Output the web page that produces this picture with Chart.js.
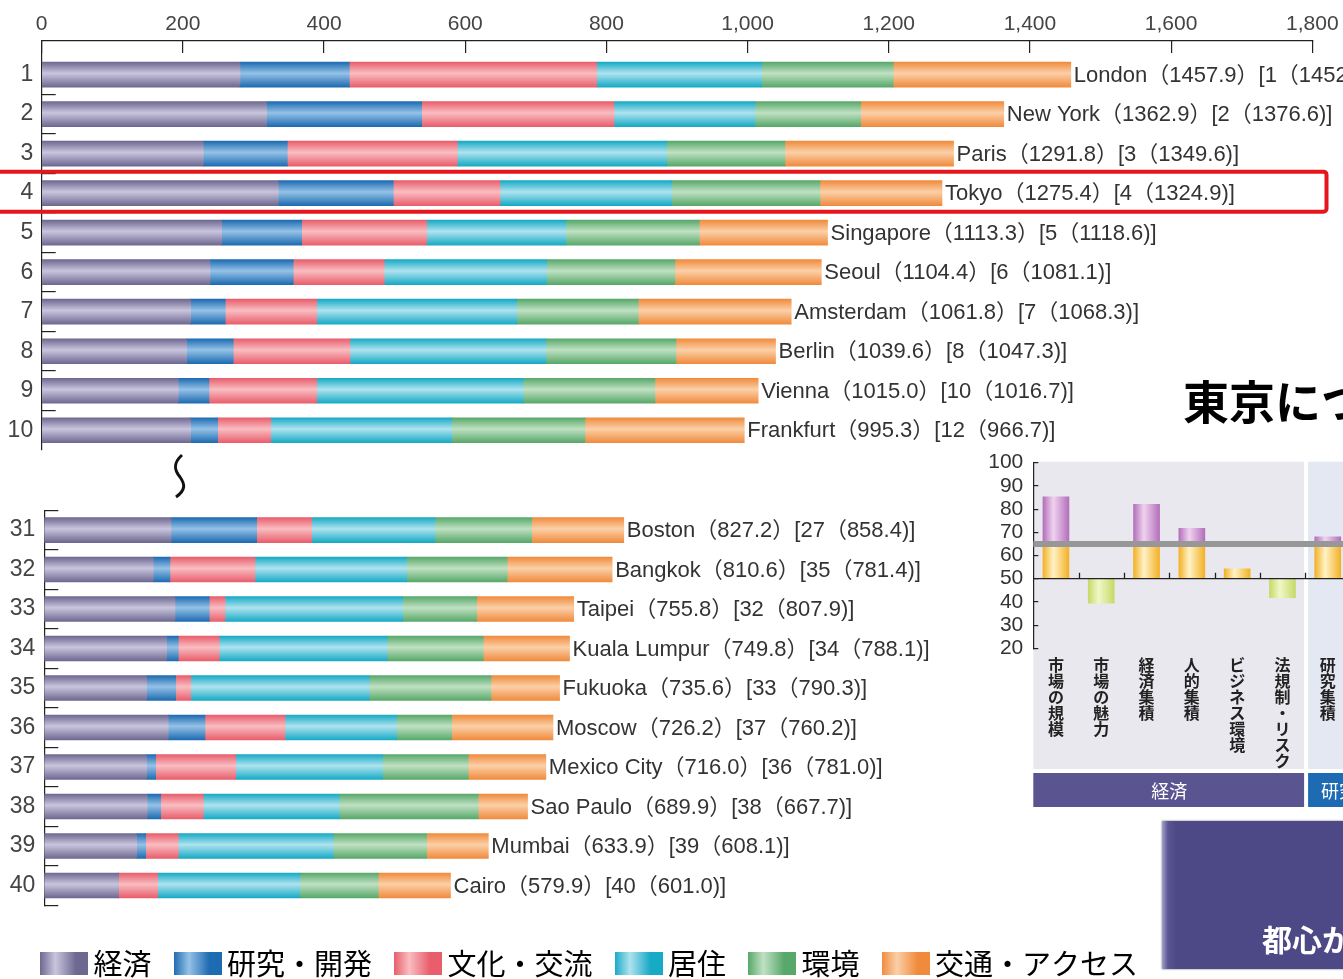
<!DOCTYPE html>
<html lang="ja">
<head>
<meta charset="utf-8">
<title>都市総合力ランキング</title>
<script src="https://cdn.jsdelivr.net/npm/chart.js@4.4.1/dist/chart.umd.min.js"></script>
<style>
html, body { margin: 0; padding: 0; background: #fff; }
#page { position: relative; width: 1343px; height: 979px; overflow: hidden; background: #fff; }
canvas { position: absolute; display: block; }
#topChart { left: 0; top: 0; }
#bottomChart { left: 0; top: 500px; }
#factorChart { left: 970px; top: 440px; }
#title { position: absolute; left: 1183px; top: 376px; font: bold 46px "Noto Sans CJK JP"; line-height: 1; color: #000; white-space: nowrap; }
#box { position: absolute; left: 1162px; top: 821px; width: 200px; height: 148px;
  background: linear-gradient(to right, #a3a0cc 0, #5a5692 6px, #4d4986 14px, #4d4986 100%); box-shadow: 0 0 2px #777; }
#box span { position: absolute; left: 100px; top: 102px; color: #fff; font: bold 30px "Noto Sans CJK JP"; line-height: 1; white-space: nowrap; }
#squiggle { position: absolute; left: 160px; top: 450px; }
</style>
</head>
<body>
<div id="page">
  <canvas id="topChart" width="1343" height="455"></canvas>
  <canvas id="bottomChart" width="1343" height="488"></canvas>
  <canvas id="factorChart" width="400" height="380"></canvas>
  <div id="title">東京について</div>
  <div id="box"><span>都心から</span></div>
  <svg id="squiggle" width="40" height="55"><path d="M 22 5 C 12 14, 15 21, 20 27 C 25 34, 26 40, 16 47" fill="none" stroke="#111" stroke-width="3"/></svg>
</div>
<script>
var categoryNames = ['経済', '研究・開発', '文化・交流', '居住', '環境', '交通・アクセス'];
var segmentColors = [
    ['#6d6890', '#cac5dd'],
    ['#1d6bb1', '#95c2e7'],
    ['#e85e6c', '#f9bdc1'],
    ['#17aac5', '#afe3ef'],
    ['#58a86a', '#c0e1c3'],
    ['#f08b3d', '#fbd0a8']
];

var topRanks = [1, 2, 3, 4, 5, 6, 7, 8, 9, 10];
var topCities = ['London', 'New York', 'Paris', 'Tokyo', 'Singapore', 'Seoul', 'Amsterdam', 'Berlin', 'Vienna', 'Frankfurt'];
var topScores = [1457.9, 1362.9, 1291.8, 1275.4, 1113.3, 1104.4, 1061.8, 1039.6, 1015.0, 995.3];
var topPrevRanks = [1, 2, 3, 4, 5, 6, 7, 8, 10, 12];
var topPrevScores = [1452.5, 1376.6, 1349.6, 1324.9, 1118.6, 1081.1, 1068.3, 1047.3, 1016.7, 966.7];
var topEconomy = [280.9, 318.7, 229.0, 335.2, 255.0, 238.4, 211.0, 205.4, 193.5, 211.0];
var topResearch = [154.9, 219.6, 119.0, 162.9, 113.3, 118.0, 49.1, 66.0, 43.5, 38.3];
var topCulture = [350.4, 272.4, 240.8, 151.1, 177.1, 128.9, 129.5, 165.3, 152.6, 75.1];
var topLiving = [233.8, 199.8, 296.6, 243.3, 197.3, 230.1, 283.3, 277.7, 292.7, 256.4];
var topEnvironment = [186.4, 149.7, 167.6, 210.1, 188.9, 181.7, 172.3, 184.2, 186.5, 188.9];
var topAccess = [251.5, 202.7, 238.8, 172.8, 181.7, 207.3, 216.6, 141.0, 146.2, 225.6];

var bottomRanks = [31, 32, 33, 34, 35, 36, 37, 38, 39, 40];
var bottomCities = ['Boston', 'Bangkok', 'Taipei', 'Kuala Lumpur', 'Fukuoka', 'Moscow', 'Mexico City', 'Sao Paulo', 'Mumbai', 'Cairo'];
var bottomScores = [827.2, 810.6, 755.8, 749.8, 735.6, 726.2, 716.0, 689.9, 633.9, 579.9];
var bottomPrevRanks = [27, 35, 32, 34, 33, 37, 36, 38, 39, 40];
var bottomPrevScores = [858.4, 781.4, 807.9, 788.1, 790.3, 760.2, 781.0, 667.7, 608.1, 601.0];
var bottomEconomy = [180.9, 155.6, 186.6, 174.7, 146.2, 177.0, 146.2, 147.0, 131.9, 105.6];
var bottomResearch = [122.3, 23.8, 48.9, 16.6, 41.4, 52.4, 12.8, 19.2, 12.9, 0];
var bottomCulture = [78.5, 121.4, 22.5, 58.5, 21.4, 114.2, 114.2, 60.8, 46.5, 56.3];
var bottomLiving = [176.0, 216.5, 253.6, 239.8, 255.0, 159.4, 209.9, 194.1, 221.3, 203.1];
var bottomEnvironment = [138.1, 143.6, 105.7, 137.1, 173.7, 78.6, 122.2, 198.5, 133.3, 111.8];
var bottomAccess = [131.4, 149.7, 138.5, 123.1, 97.9, 144.6, 110.7, 70.3, 88.0, 103.1];

var scoreTicks = [0, 200, 400, 600, 800, 1000, 1200, 1400, 1600, 1800];
var highlightRank = 4;

var factorNames = ['市場の規模', '市場の魅力', '経済集積', '人的集積', 'ビジネス環境', '法規制・リスク', '研究集積'];
var factorScores = [85.3, 39.4, 82.1, 71.7, 54.3, 41.8, 68.1];
var factorTicks = [100, 90, 80, 70, 60, 50, 40, 30, 20];
var factorBase = 50;
var factorAverage = 65;
var factorGroups = ['経済', '研究・開発'];

var latin = '"Liberation Sans", Arial, "Noto Sans CJK JP", sans-serif';
var cjk = '"Noto Sans CJK JP", sans-serif';

function noPad(s) {
    s.paddingTop = 0;
    s.paddingBottom = 0;
    s.paddingLeft = 0;
    s.paddingRight = 0;
}

function rankTicks(ranks, withEnds) {
    var t = [];
    if (withEnds) t.push(ranks[0] - 0.5);
    ranks.forEach(function(r, i) {
        t.push(r);
        if (i < ranks.length - 1 || withEnds) t.push(r + 0.5);
    });
    return t.map(function(v) { return { value: v }; });
}

function halfTickColor(c) {
    return c.tick && c.tick.value % 1 !== 0 ? '#222' : 'rgba(0,0,0,0)';
}

function barGradient(pair) {
    return function(c) {
        var chart = c.chart, ys = chart.scales.y;
        if (!chart.chartArea || !ys || !c.parsed) return pair[0];
        var y = ys.getPixelForValue(c.parsed.y);
        var g = chart.ctx.createLinearGradient(0, y - 12.5, 0, y + 12.5);
        g.addColorStop(0, pair[0]);
        g.addColorStop(0.45, pair[1]);
        g.addColorStop(1, pair[0]);
        return g;
    };
}

function stackedDatasets(ranks, segments) {
    return categoryNames.map(function(name, k) {
        return {
            label: name,
            data: ranks.map(function(r, i) { return { x: segments[k][i], y: r }; }),
            backgroundColor: barGradient(segmentColors[k]),
            borderWidth: 0,
            barThickness: 25
        };
    });
}

function makeSwatch(pair) {
    var cv = document.createElement('canvas');
    cv.width = 48;
    cv.height = 23;
    var g = cv.getContext('2d');
    var gr = g.createLinearGradient(0, 0, 48, 0);
    gr.addColorStop(0, pair[0]);
    gr.addColorStop(0.32, pair[1]);
    gr.addColorStop(0.75, pair[0]);
    gr.addColorStop(1, pair[0]);
    g.fillStyle = gr;
    g.fillRect(0, 0, 48, 23);
    return cv;
}

var endLabels = {
    id: 'endLabels',
    afterLayout: function(chart, args, opts) {
        // legend starts a bit right of the axis labels
        if (opts.legendShift && chart.legend) {
            chart.legend.left += opts.legendShift;
            chart.legend.right += opts.legendShift;
        }
    },
    afterDatasetsDraw: function(chart, args, opts) {
        if (!opts.ranks) return;
        var c = chart.ctx, xs = chart.scales.x, ys = chart.scales.y;
        c.save();
        c.font = '22px ' + latin;
        c.fillStyle = '#333';
        c.textBaseline = 'middle';
        opts.ranks.forEach(function(r, i) {
            var text = opts.cities[i] + '（' + opts.scores[i].toFixed(1) + '）[' + opts.prevRanks[i] + '（' + opts.prevScores[i].toFixed(1) + ')]';
            c.fillText(text, xs.getPixelForValue(opts.scores[i]) + 3, ys.getPixelForValue(r) + 1);
        });
        if (opts.highlight) {
            var y = ys.getPixelForValue(opts.highlight);
            c.strokeStyle = '#e6161d';
            c.lineWidth = 4;
            c.beginPath();
            c.roundRect(-4, y - 21.5, 1330.5, 40, 3);
            c.stroke();
        }
        c.restore();
    }
};

function rankChart(id, ranks, segments, info) {
    var isTop = info.top;
    return new Chart(document.getElementById(id), {
        type: 'bar',
        data: { datasets: stackedDatasets(ranks, segments) },
        plugins: [endLabels],
        options: {
            indexAxis: 'y',
            responsive: false,
            animation: false,
            layout: { padding: info.padding },
            scales: {
                x: {
                    position: isTop ? 'top' : 'bottom',
                    stacked: true,
                    min: scoreTicks[0],
                    max: scoreTicks[scoreTicks.length - 1],
                    afterBuildTicks: function(s) { s.ticks = scoreTicks.map(function(v) { return { value: v }; }); },
                    ticks: {
                        display: isTop,
                        padding: 16,
                        font: { family: latin, size: 21 },
                        color: '#444',
                        callback: function(v) { return v.toLocaleString('en-US'); }
                    },
                    grid: { display: isTop, drawOnChartArea: false, drawTicks: isTop, tickLength: -12, color: '#222', lineWidth: 1.2 },
                    border: { display: isTop, color: '#222', width: 1.2 },
                    afterFit: function(s) { s.height = info.xHeight; noPad(s); }
                },
                y: {
                    type: 'linear',
                    reverse: true,
                    stacked: true,
                    offset: false,
                    min: info.min,
                    max: info.max,
                    afterBuildTicks: function(s) { s.ticks = rankTicks(ranks, !isTop); },
                    ticks: {
                        autoSkip: false,
                        padding: info.labelPad,
                        font: { family: latin, size: 23 },
                        color: '#444',
                        callback: function(v) { return v % 1 === 0 ? String(v) : ''; }
                    },
                    grid: { offset: false, drawOnChartArea: false, tickLength: -14, color: halfTickColor, lineWidth: 1.2 },
                    border: { color: '#222', width: 1.2 },
                    afterFit: function(s) { s.width = info.yWidth; noPad(s); }
                }
            },
            plugins: {
                tooltip: { enabled: false },
                legend: isTop ? { display: false } : {
                    position: 'bottom',
                    align: 'start',
                    labels: {
                        usePointStyle: true,
                        pointStyleWidth: 30,
                        padding: 31,
                        color: '#4a4a4a',
                        font: { family: cjk, size: 29 },
                        generateLabels: function(chart) {
                            return chart.data.datasets.map(function(ds, i) {
                                return { text: ds.label, datasetIndex: i, pointStyle: makeSwatch(segmentColors[i]),
                                    fillStyle: 'rgba(0,0,0,0)', strokeStyle: 'rgba(0,0,0,0)', lineWidth: 0, hidden: false };
                            });
                        }
                    }
                },
                endLabels: info.labels
            }
        }
    });
}

rankChart('topChart', topRanks,
    [topEconomy, topResearch, topCulture, topLiving, topEnvironment, topAccess],
    { top: true, min: 0.15, max: 10.5, xHeight: 41, yWidth: 41.7, labelPad: 22.5,
      padding: { left: 0, right: 30.7, top: 0, bottom: 5 },
      labels: { ranks: topRanks, cities: topCities, scores: topScores, prevRanks: topPrevRanks, prevScores: topPrevScores, highlight: highlightRank } });

rankChart('bottomChart', bottomRanks,
    [bottomEconomy, bottomResearch, bottomCulture, bottomLiving, bottomEnvironment, bottomAccess],
    { top: false, min: 30.5, max: 40.5, xHeight: 12.8, yWidth: 44.3, labelPad: 23,
      padding: { left: 0, right: 37.8, top: 10.3, bottom: 0 },
      labels: { ranks: bottomRanks, cities: bottomCities, scores: bottomScores, prevRanks: bottomPrevRanks, prevScores: bottomPrevScores, legendShift: 18 } });

// small factor chart on the right
function columnGradient(edge, light) {
    return function(c) {
        var chart = c.chart, xs = chart.scales.x;
        if (!chart.chartArea || !xs || c.dataIndex === undefined) return edge;
        var x = xs.getPixelForValue(c.dataIndex);
        var g = chart.ctx.createLinearGradient(x - 13, 0, x + 13, 0);
        g.addColorStop(0, edge);
        g.addColorStop(0.4, light);
        g.addColorStop(1, edge);
        return g;
    };
}

var factorDecor = {
    id: 'factorDecor',
    beforeDraw: function(chart) {
        var c = chart.ctx, a = chart.chartArea, xs = chart.scales.x;
        var split = (xs.getPixelForValue(5) + xs.getPixelForValue(6)) / 2;
        c.save();
        c.fillStyle = '#e9e8ef';
        c.fillRect(a.left, a.top - 1, split - 1 - a.left, 330 - a.top);
        c.fillStyle = '#e4e8f2';
        c.fillRect(split + 3, a.top - 1, 200, 330 - a.top);
        c.fillStyle = '#5a5490';
        c.fillRect(a.left, 333, split - 1 - a.left, 34);
        c.fillStyle = '#1d6bb3';
        c.fillRect(split + 3, 333, 200, 34);
        c.fillStyle = '#fff';
        c.font = '18px ' + cjk;
        c.textBaseline = 'middle';
        c.textAlign = 'center';
        c.fillText(factorGroups[0], (a.left + split) / 2, 351);
        c.textAlign = 'left';
        c.fillText(factorGroups[1], split + 16, 351);
        c.restore();
    },
    afterDatasetsDraw: function(chart) {
        var c = chart.ctx, a = chart.chartArea, xs = chart.scales.x, ys = chart.scales.y;
        var yb = ys.getPixelForValue(factorBase), ya = ys.getPixelForValue(factorAverage);
        c.save();
        c.strokeStyle = '#979797';
        c.lineWidth = 6;
        c.beginPath();
        c.moveTo(a.left, ya);
        c.lineTo(a.right + 20, ya);
        c.stroke();
        c.strokeStyle = '#222';
        c.lineWidth = 1.3;
        c.beginPath();
        c.moveTo(a.left, yb);
        c.lineTo(a.right + 20, yb);
        for (var i = 0; i < factorNames.length - 1; i++) {
            var x = Math.round((xs.getPixelForValue(i) + xs.getPixelForValue(i + 1)) / 2) + 0.5;
            c.moveTo(x, yb);
            c.lineTo(x, yb - 6);
        }
        c.stroke();
        c.restore();
    }
};

new Chart(document.getElementById('factorChart'), {
    type: 'bar',
    data: {
        labels: factorNames.map(function(n) { return n.split(''); }),
        datasets: [
            { data: factorScores.map(function(v) { return v > factorBase ? [factorBase, Math.min(v, factorAverage)] : null; }),
              backgroundColor: columnGradient('#f3b126', '#fff2c6') },
            { data: factorScores.map(function(v) { return v > factorAverage ? [factorAverage, v] : null; }),
              backgroundColor: columnGradient('#b36fbb', '#efd2ef') },
            { data: factorScores.map(function(v) { return v < factorBase ? [v, factorBase] : null; }),
              backgroundColor: columnGradient('#c5da68', '#f1f7c8') }
        ]
    },
    plugins: [factorDecor],
    options: {
        responsive: false,
        animation: false,
        datasets: { bar: { grouped: false, barThickness: 26, borderWidth: 0 } },
        layout: { padding: { left: 0, right: 19.6, top: 22.7, bottom: 0 } },
        scales: {
            x: {
                grid: { display: false, drawTicks: false },
                border: { display: false },
                ticks: { padding: 9, autoSkip: false, maxRotation: 0, minRotation: 0,
                    font: { family: cjk, size: 16, weight: 'bold', lineHeight: 1 }, color: '#222' },
                afterFit: function(s) { s.height = 171.7; noPad(s); }
            },
            y: {
                min: 20,
                max: 100,
                afterBuildTicks: function(s) { s.ticks = factorTicks.slice().reverse().map(function(v) { return { value: v }; }); },
                ticks: { autoSkip: false, padding: 15, font: { family: latin, size: 21 }, color: '#333' },
                grid: { drawOnChartArea: false, tickLength: -5, color: '#222', lineWidth: 1.2 },
                border: { color: '#222', width: 1.2 },
                afterFit: function(s) { s.width = 63.3; noPad(s); }
            }
        },
        plugins: { legend: { display: false }, tooltip: { enabled: false } }
    }
});
</script>
</body>
</html>
